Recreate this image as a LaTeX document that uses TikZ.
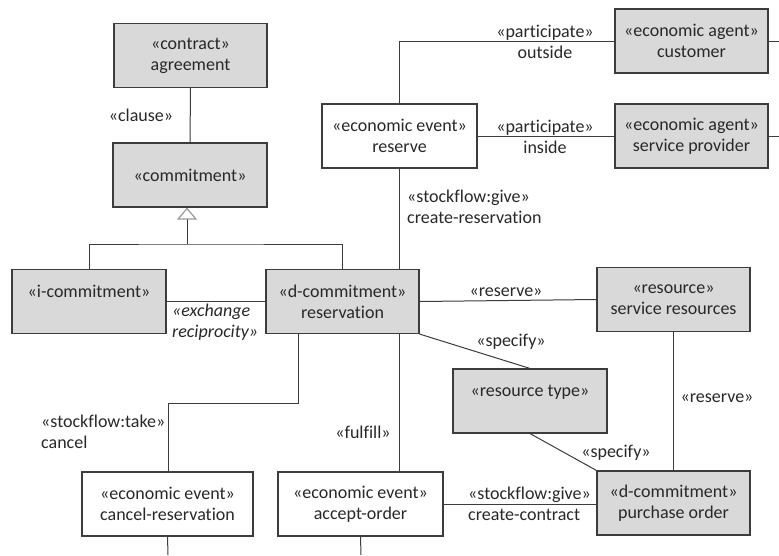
\documentclass[tikz,border=0pt]{standalone}
\usepackage{fontspec}
\setmainfont{Carlito}[Ligatures=NoCommon]
\usepackage{tikz}
\usetikzlibrary{arrows.meta}

\definecolor{boxgray}{RGB}{217,217,217}
\definecolor{linegray}{RGB}{60,60,60}
\definecolor{textgray}{RGB}{40,40,40}

\begin{document}
\begin{tikzpicture}[x=1pt,y=-1pt,
    every node/.style={font=\fontsize{18}{21}\selectfont, text=textgray},
    umlbox/.style={draw=linegray, line width=1.1pt, minimum height=64pt, inner sep=0pt, align=center},
    agentbox/.style={umlbox, fill=boxgray},
    eventbox/.style={umlbox, fill=white},
    lbl/.style={inner sep=0pt, align=center},
    lbll/.style={inner sep=0pt, align=left, anchor=west},
    link/.style={draw=linegray, line width=1pt}]
  \useasboundingbox (0,0) rectangle (779,555);
  % Coordinates
  \coordinate (G) at (187,244);
  \coordinate (T) at (168,403);
  \coordinate (E1) at (779,41);
  \coordinate (E2) at (779,136);
  \coordinate (E3) at (168,555);
  \coordinate (E4) at (361,555);
  % Boxes
  \node[agentbox, minimum width=153pt] (agreement) at (190.5,55.5) {«contract»\\agreement};
  \node[agentbox, minimum width=154pt] (commitment) at (190,175) {«commitment»};
  \node[agentbox, minimum width=154pt] (icommit) at (89,301.5) {«i-commitment»\\\mbox{}};
  \node[agentbox, minimum width=153pt] (reservation) at (342.5,301.5) {«d-commitment»\\reservation};
  \node[eventbox, minimum width=155pt] (reserve) at (399.5,136) {«economic event»\\reserve};
  \node[agentbox, minimum width=153pt] (customer) at (691.5,41) {«economic agent»\\customer};
  \node[agentbox, minimum width=153pt] (provider) at (691.5,136) {«economic agent»\\service provider};
  \node[agentbox, minimum width=153pt] (resource) at (673.5,299.5) {«resource»\\service resources};
  \node[agentbox, minimum width=154pt] (restype) at (530,401) {«resource type»\\\mbox{}};
  \node[eventbox, minimum width=171pt] (cancel) at (167.5,504) {«economic event»\\cancel-reservation};
  \node[eventbox, minimum width=165pt] (accept) at (360.5,504) {«economic event»\\accept-order};
  \node[agentbox, minimum width=153pt] (purchase) at (673.5,503) {«d-commitment»\\purchase order};
  % Links
  \draw[link] (agreement) -- (commitment);
  \draw[link] (icommit.north) |- (G) -| (reservation.north);
  \draw[link, -{Triangle[open, length=12pt, width=20pt, fill=white, color=gray!80, line width=1.2pt]}] (G) -- (commitment.south -| G);
  \draw[link] (reserve.north) |- (customer.west);
  \draw[link] (reserve) -- (provider);
  \draw[link] (customer.east) -- (E1);
  \draw[link] (provider.east) -- (E2);
  \draw[link] (reserve.south) -- (reserve.south |- reservation.north);
  \draw[link] (icommit.east) -- (reservation.west);
  \draw[link] (reservation.east) -- (resource.west);
  \draw[link] (reservation.south east) -- (restype.north);
  \draw[link] (restype.south) -- (purchase.north west);
  \draw[link] (resource) -- (purchase);
  \draw[link] ([xshift=-44.5pt]reservation.south) |- (T) -- (T |- cancel.north);
  \draw[link] (reserve.south |- reservation.south) -- (reserve.south |- accept.north);
  \draw[link] (accept.east) -- (accept.east -| purchase.west);
  \draw[link] (cancel.south) -- (E3);
  \draw[link] (accept.south) -- (E4);
  % Labels
  \node[lbl] (clause) at (141,115) {«clause»};
  \node[lbl] (outside) at (545,42) {«participate»\\outside};
  \node[lbl] (inside) at (545,137) {«participate»\\inside};
  \node[lbll] (give1) at (407,207) {«stockflow:give»\\create-reservation};
  \node[lbll] (recip) at (172,322) {\itshape«exchange\\\itshape reciprocity»};
  \node[lbl] (res1) at (506,292) {«reserve»};
  \node[lbl] (spec1) at (511,342) {«specify»};
  \node[lbll] (take) at (41,432) {«stockflow:take»\\cancel};
  \node[lbl] (fulfill) at (363,432) {«fulfill»};
  \node[lbl] (spec2) at (616,453) {«specify»};
  \node[lbl] (res2) at (717,398) {«reserve»};
  \node[lbll] (give2) at (468,504) {«stockflow:give»\\create-contract};
\end{tikzpicture}
\end{document}
